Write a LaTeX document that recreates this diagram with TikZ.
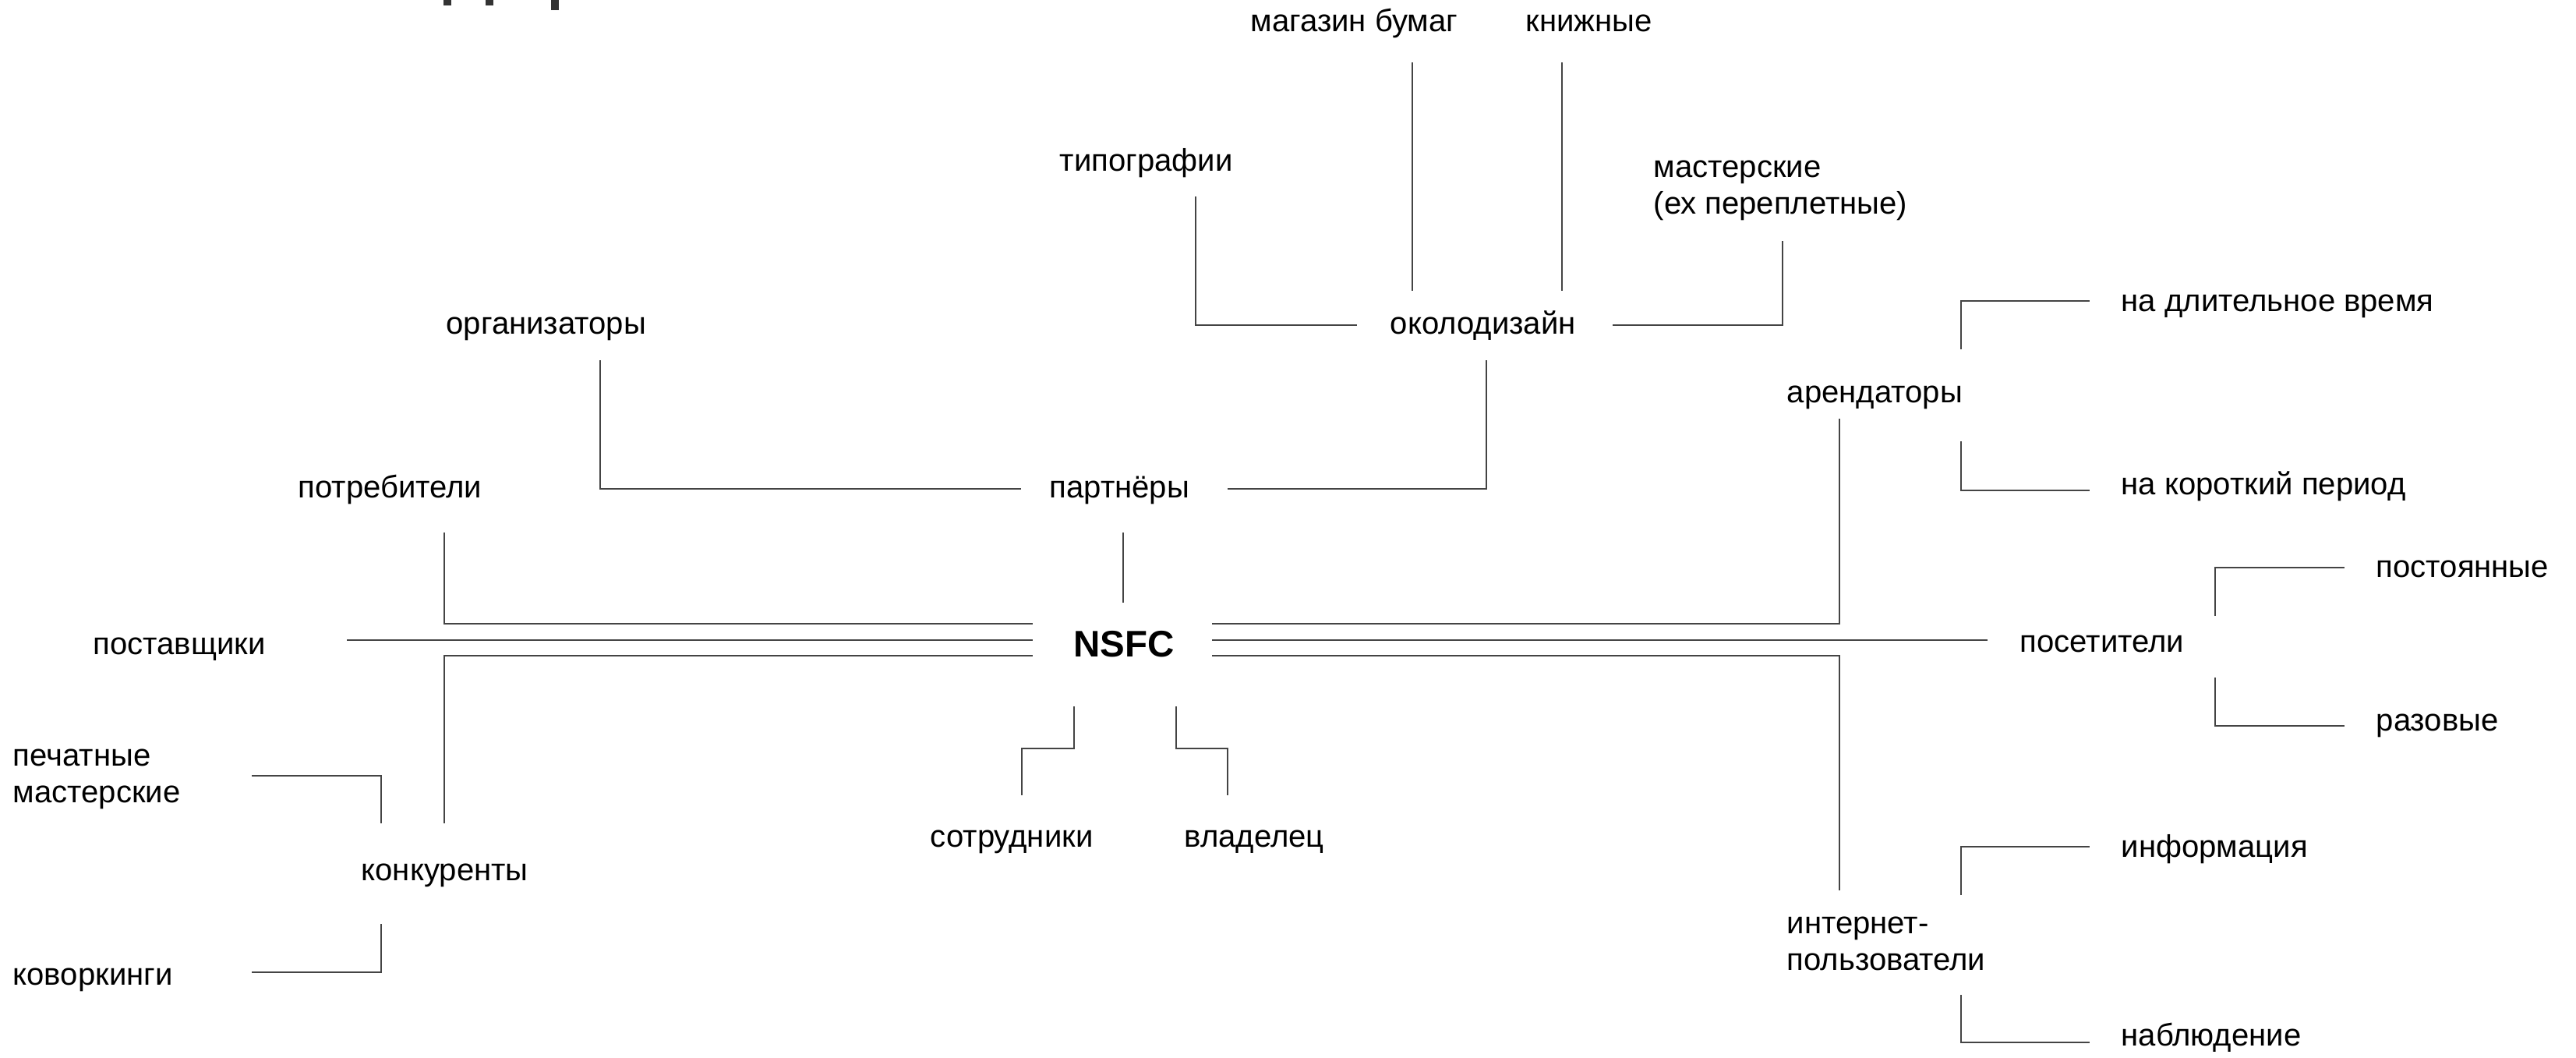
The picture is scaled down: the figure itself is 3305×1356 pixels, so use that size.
\documentclass[tikz,border=0pt]{standalone}
\usepackage{fontspec}
\setmainfont{Liberation Sans}
\definecolor{wiregrey}{HTML}{444444}
\definecolor{headgrey}{HTML}{333333}

\begin{document}
\begin{tikzpicture}[x=0.01cm, y=-0.01cm,
		lbl/.style={anchor=west, inner sep=0pt, text height=1.25ex, text depth=0pt, font=\fontsize{11.4}{13.4}\selectfont},
		lbltwo/.style={anchor=west, inner sep=0pt, align=left, font=\fontsize{11.4}{13.4}\selectfont},
		wire/.style={draw=wiregrey, line width=0.6pt}]
		\useasboundingbox (0,0) rectangle (3305,1356);

		\fill[headgrey] (569,0) rectangle (579,7);
		\fill[headgrey] (623,0) rectangle (633,7);
		\fill[headgrey] (707,0) rectangle (717,13);

		\node[anchor=base, inner sep=0pt, font=\fontsize{13.5}{16}\selectfont\bfseries] (nsfc) at (1442,842) {NSFC};

		\node[lbl] (mag) at (1604,29) {магазин бумаг};
		\node[lbl] (knig) at (1957,29) {книжные};
		\node[lbl] (tipo) at (1359,208) {типографии};
		\node[lbltwo] (mast) at (2121,244) {мастерские\\(ех переплетные)};
		\node[lbl] (okolo) at (1783,417) {околодизайн};
		\node[lbl] (org) at (572,417) {организаторы};
		\node[lbl] (part) at (1346,627) {партнёры};
		\node[lbl] (potr) at (382,627) {потребители};
		\node[lbl] (postav) at (119,828) {поставщики};
		\node[lbltwo] (pech) at (16,999) {печатные\\мастерские};
		\node[lbl] (konk) at (463,1118) {конкуренты};
		\node[lbl] (kovork) at (16,1252) {коворкинги};
		\node[lbl] (sotr) at (1193,1075) {сотрудники};
		\node[lbl] (vlad) at (1519,1075) {владелец};
		\node[lbl] (arend) at (2292,505) {арендаторы};
		\node[lbl] (dlit) at (2721,388) {на длительное время};
		\node[lbl] (korot) at (2721,623) {на короткий период};
		\node[lbl] (poset) at (2591,825) {посетители};
		\node[lbl] (postoyan) at (3048,729) {постоянные};
		\node[lbl] (razov) at (3048,926) {разовые};
		\node[lbltwo] (inet) at (2292,1210) {интернет-\\пользователи};
		\node[lbl] (inform) at (2721,1088) {информация};
		\node[lbl] (nabl) at (2721,1330) {наблюдение};

		\draw[wire] ([shift={(208,51)}]mag.west) -- ([shift={(29,-44)}]okolo.west);
		\draw[wire] ([shift={(47,51)}]knig.west) -- ([shift={(221,-44)}]okolo.west);
		\draw[wire] ([shift={(175,44)}]tipo.west) |- ([shift={(-42,0)}]okolo.west);
		\draw[wire] ([shift={(286,0)}]okolo.west) -| ([shift={(166,65)}]mast.west);
		\draw[wire] ([shift={(124,45)}]okolo.west) |- ([shift={(229,0)}]part.west);
		\draw[wire] ([shift={(198,45)}]org.west) |- ([shift={(-36,0)}]part.west);
		\draw[wire] ([shift={(95,56)}]part.west) -- ([shift={(-1,-69)}]nsfc.base);

		\draw[wire] ([shift={(188,56)}]potr.west) |- ([shift={(-117,-42)}]nsfc.base);
		\draw[wire] ([shift={(326,-7)}]postav.west) -- ([shift={(-117,-21)}]nsfc.base);
		\draw[wire] ([shift={(107,-62)}]konk.west) |- ([shift={(-117,-1)}]nsfc.base);
		\draw[wire] ([shift={(307,-4)}]pech.west) -| ([shift={(26,-62)}]konk.west);
		\draw[wire] ([shift={(26,67)}]konk.west) |- ([shift={(307,-5)}]kovork.west);

		\draw[wire] ([shift={(-64,64)}]nsfc.base) -- ++(0,54) -| ([shift={(118,-55)}]sotr.west);
		\draw[wire] ([shift={(67,64)}]nsfc.base) -- ++(0,54) -| ([shift={(56,-55)}]vlad.west);

		\draw[wire] ([shift={(68,32)}]arend.west) |- ([shift={(113,-42)}]nsfc.base);
		\draw[wire] ([shift={(-41,-4)}]poset.west) -- ([shift={(113,-21)}]nsfc.base);
		\draw[wire] ([shift={(68,-68)}]inet.west) |- ([shift={(113,-1)}]nsfc.base);

		\draw[wire] ([shift={(224,-57)}]arend.west) |- ([shift={(-40,-2)}]dlit.west);
		\draw[wire] ([shift={(224,61)}]arend.west) |- ([shift={(-40,6)}]korot.west);
		\draw[wire] ([shift={(251,-35)}]poset.west) |- ([shift={(-40,-1)}]postoyan.west);
		\draw[wire] ([shift={(251,44)}]poset.west) |- ([shift={(-40,5)}]razov.west);
		\draw[wire] ([shift={(224,-62)}]inet.west) |- ([shift={(-40,-2)}]inform.west);
		\draw[wire] ([shift={(224,66)}]inet.west) |- ([shift={(-40,7)}]nabl.west);
	\end{tikzpicture}
\end{document}
